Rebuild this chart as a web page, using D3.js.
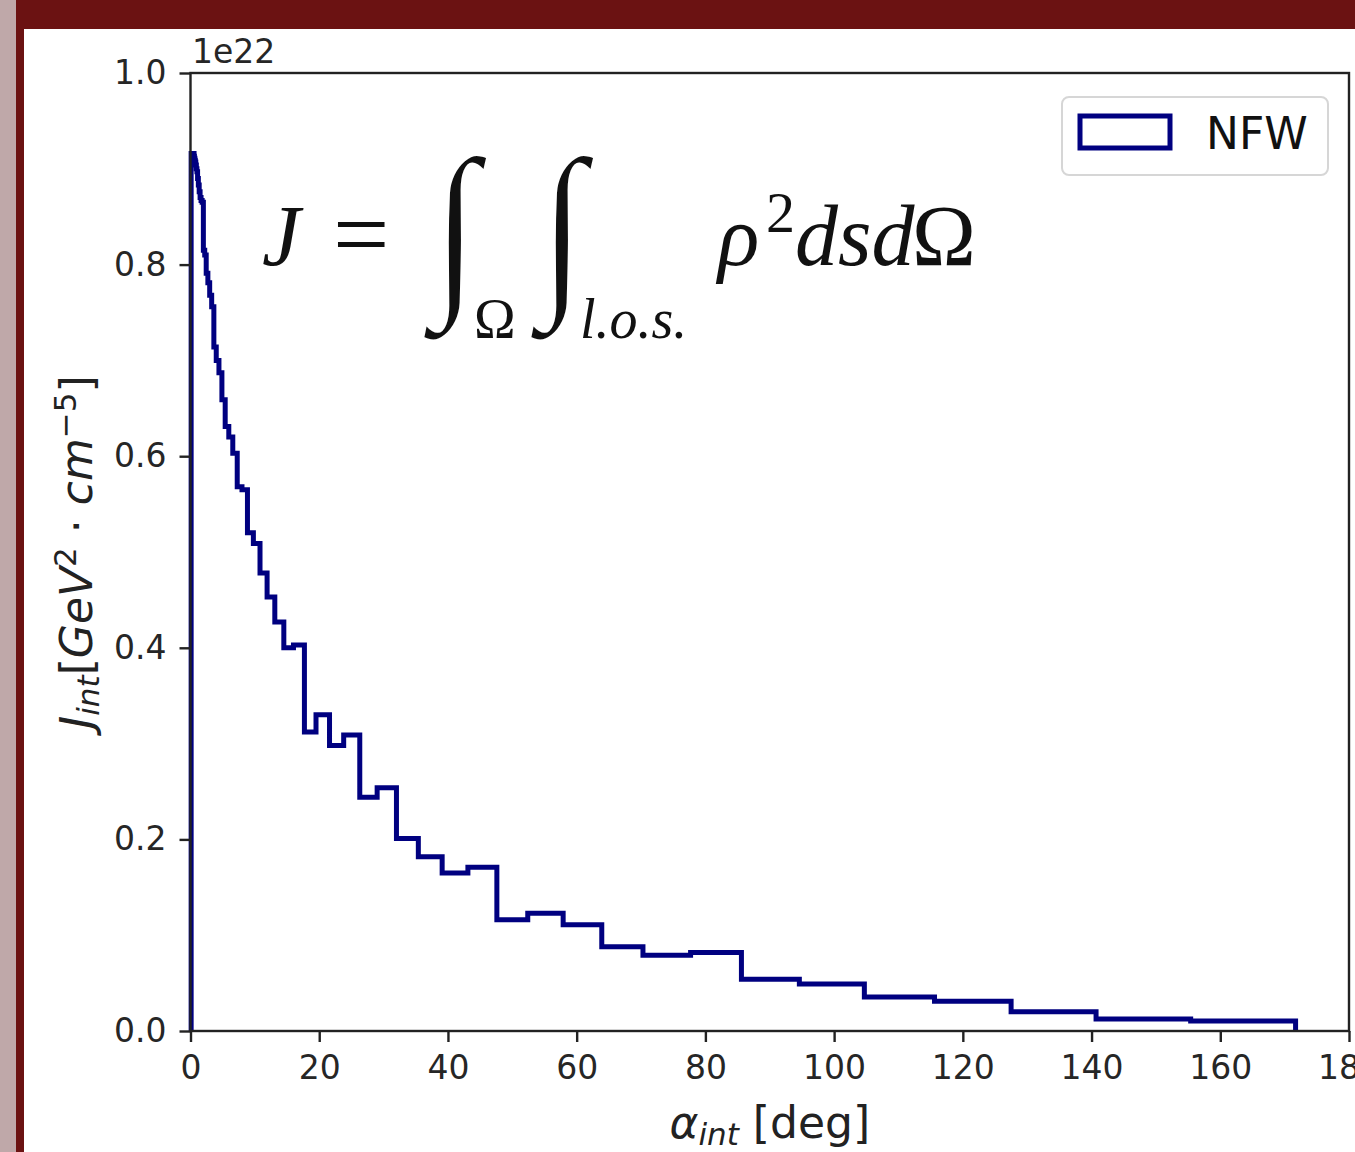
<!DOCTYPE html>
<html>
<head>
<meta charset="utf-8">
<script src="https://cdn.jsdelivr.net/npm/d3@7"></script>
<style>
  body { margin: 0; background: #fff; }
  svg text { font-family: "DejaVu Sans", sans-serif; }
</style>
</head>
<body>
<div class="canvas"></div>
<script>
// bin edges of the histogram [deg]
const binEdges = [0.1, 0.55, 0.61, 0.68, 0.75, 0.82, 0.91, 1.0, 1.1, 1.22, 1.35, 1.49, 1.64, 1.81, 2.0,
  2.21, 2.44, 2.7, 2.98, 3.29, 3.63, 4.0, 4.42, 4.88, 5.39, 5.95, 6.57, 7.26, 8.0, 8.85, 9.77,
  10.8, 11.9, 13.1, 14.5, 16.0, 17.7, 19.5, 21.6, 23.8, 26.3, 29.0, 32.0, 35.4, 39.1, 43.1,
  47.6, 52.4, 57.9, 63.9, 70.3, 77.7, 85.6, 94.6, 104.7, 115.6, 127.5, 140.7, 155.4, 171.7];

// J_int per bin [GeV^2 cm^-5]
const nfwValues = [0.916e22, 0.913e22, 0.911e22, 0.909e22, 0.907e22, 0.904e22, 0.900e22, 0.897e22,
  0.890e22, 0.883e22, 0.876e22, 0.870e22, 0.867e22, 0.865e22, 0.815e22, 0.810e22, 0.791e22,
  0.781e22, 0.768e22, 0.756e22, 0.714e22, 0.700e22, 0.687e22, 0.659e22, 0.631e22, 0.620e22,
  0.603e22, 0.568e22, 0.565e22, 0.520e22, 0.509e22, 0.478e22, 0.453e22, 0.427e22, 0.400e22,
  0.403e22, 0.312e22, 0.330e22, 0.298e22, 0.309e22, 0.244e22, 0.254e22, 0.201e22, 0.182e22,
  0.165e22, 0.171e22, 0.116e22, 0.123e22, 0.111e22, 0.088e22, 0.079e22, 0.082e22, 0.054e22,
  0.049e22, 0.0355e22, 0.031e22, 0.020e22, 0.0125e22, 0.0104e22];

const xTicks = [0, 20, 40, 60, 80, 100, 120, 140, 160, 180];
const yTicks = [0, 0.2e22, 0.4e22, 0.6e22, 0.8e22, 1.0e22];
const legendLabel = 'NFW';

const W = 1355, H = 1152;
const LINE_COLOR = '#000080';

const svg = d3.select('.canvas')
  .append('svg')
    .attr('width', W)
    .attr('height', H);

// page frame (dark red border + grey strip)
svg.append('rect').attr('x', 0).attr('y', 0).attr('width', W).attr('height', H).attr('fill', '#fff');
svg.append('rect').attr('x', 0).attr('y', 0).attr('width', W).attr('height', 29).attr('fill', '#6b1212');
svg.append('rect').attr('x', 16).attr('y', 0).attr('width', 8).attr('height', H).attr('fill', '#6b1212');
svg.append('rect').attr('x', 0).attr('y', 0).attr('width', 16).attr('height', H).attr('fill', '#bfa8a9');

const plot = {left: 190.5, right: 1349, top: 73, bottom: 1031};

const x = d3.scaleLinear()
  .domain([0, 180])
  .range([plot.left, plot.right]);

const y = d3.scaleLinear()
  .domain([0, 1e22])
  .range([plot.bottom, plot.top]);

// step outline
const pts = [{a: binEdges[0], v: 0}];
nfwValues.forEach((v, i) => pts.push({a: binEdges[i], v: v}));
pts.push({a: binEdges[binEdges.length - 1], v: 0});

const line = d3.line()
  .x(d => x(d.a))
  .y(d => y(d.v))
  .curve(d3.curveStepAfter);

svg.append('path')
  .datum(pts)
  .attr('d', line)
  .attr('fill', 'none')
  .attr('stroke', LINE_COLOR)
  .attr('stroke-width', 5)
  .attr('stroke-linejoin', 'miter');

// axes
const xAxis = svg.append('g')
  .attr('transform', `translate(0,${plot.bottom})`)
  .call(d3.axisBottom(x).tickValues(xTicks).tickSize(11).tickPadding(14).tickFormat(d3.format('d')));

const yAxis = svg.append('g')
  .attr('transform', `translate(${plot.left},0)`)
  .call(d3.axisLeft(y).tickValues(yTicks).tickSize(11).tickPadding(13).tickFormat(d => (d / 1e22).toFixed(1)));

[xAxis, yAxis].forEach(g => {
  g.select('.domain').remove();
  g.selectAll('line').attr('stroke', '#222').attr('stroke-width', 2.4);
  g.selectAll('text')
    .attr('fill', '#262626')
    .style('font-family', '"DejaVu Sans", sans-serif')
    .style('font-size', '33px');
});

// frame
svg.append('rect')
  .attr('x', plot.left)
  .attr('y', plot.top)
  .attr('width', plot.right - plot.left)
  .attr('height', plot.bottom - plot.top)
  .attr('fill', 'none')
  .attr('stroke', '#222')
  .attr('stroke-width', 2.4);

// offset text
svg.append('text')
  .attr('x', 192)
  .attr('y', 63)
  .attr('fill', '#262626')
  .style('font-size', '33px')
  .text('1e22');

// x label
const xl = svg.append('text')
  .attr('x', (plot.left + plot.right) / 2)
  .attr('y', 1138)
  .attr('text-anchor', 'middle')
  .attr('fill', '#222')
  .style('font-size', '44px');
xl.append('tspan').style('font-style', 'italic').text('α');
xl.append('tspan').style('font-style', 'italic').style('font-size', '31px').attr('dy', 7).text('int');
xl.append('tspan').attr('dy', -7).text(' [deg]');

// y label
const yl = svg.append('text')
  .attr('transform', `translate(92,${(plot.top + plot.bottom) / 2}) rotate(-90)`)
  .attr('text-anchor', 'middle')
  .attr('fill', '#222')
  .style('font-size', '44px');
yl.append('tspan').style('font-style', 'italic').text('J');
yl.append('tspan').style('font-style', 'italic').style('font-size', '31px').attr('dy', 7).text('int');
yl.append('tspan').attr('dy', -7).text('[');
yl.append('tspan').style('font-style', 'italic').text('GeV');
yl.append('tspan').style('font-size', '31px').attr('dy', -16).text('2');
yl.append('tspan').attr('dy', 16).text(' · ');
yl.append('tspan').style('font-style', 'italic').text('cm');
yl.append('tspan').style('font-size', '31px').attr('dy', -16).text('−5');
yl.append('tspan').attr('dy', 16).text(']');

// formula
const serif = '"Liberation Serif", "DejaVu Serif", serif';
const fml = svg.append('g').attr('fill', '#111');
const addText = (tx, ty, size, txt, italic) => fml.append('text')
  .attr('x', tx).attr('y', ty)
  .style('font-family', serif)
  .style('font-size', size + 'px')
  .style('font-style', italic ? 'italic' : 'normal')
  .text(txt);
const addIntegral = (tx, ty) => fml.append('text')
  .attr('transform', `translate(${tx},${ty}) scale(0.9,1)`)
  .style('font-family', serif)
  .style('font-size', '190px')
  .attr('stroke', '#fff')
  .attr('stroke-width', 3)
  .text('∫');
addText(262, 265, 86, 'J', true);
addText(333, 268, 100, '=', false);
addIntegral(432, 290);
addText(474, 338, 56, 'Ω', false);
addIntegral(539, 290);
addText(580, 338, 56, 'l.o.s.', true);
addText(718, 265, 86, 'ρ', true);
addText(766, 232, 58, '2', false);
addText(795, 265, 86, 'dsd', true);
addText(912, 265, 86, 'Ω', false);

// legend
const legend = svg.append('g');
legend.append('rect')
  .attr('x', 1062).attr('y', 97)
  .attr('width', 266).attr('height', 78)
  .attr('rx', 7)
  .attr('fill', '#fff')
  .attr('stroke', '#d6d6d6')
  .attr('stroke-width', 2);
legend.append('rect')
  .attr('x', 1080).attr('y', 116)
  .attr('width', 90).attr('height', 32)
  .attr('fill', 'none')
  .attr('stroke', LINE_COLOR)
  .attr('stroke-width', 5);
legend.append('text')
  .attr('x', 1206).attr('y', 149)
  .attr('fill', '#111')
  .style('font-size', '44px')
  .text(legendLabel);
</script>
</body>
</html>
